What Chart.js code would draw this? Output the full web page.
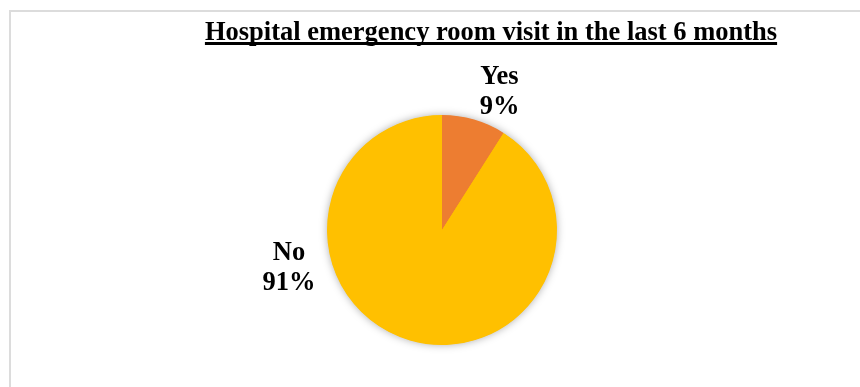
<!DOCTYPE html>
<html>
<head>
<meta charset="utf-8">
<script src="https://cdn.jsdelivr.net/npm/chart.js@4"></script>
<style>
  html, body { margin: 0; padding: 0; background: #fff; overflow: hidden; }
</style>
</head>
<body>
<canvas id="pie" width="860" height="387"></canvas>
<script>
const titleText = 'Hospital emergency room visit in the last 6 months';
const labels = ['Yes', 'No'];
const values = [9, 91];
const colors = ['#ED7D31', '#FFC000'];
// label block centre, in units of the pie radius from its centre
const labelOffsets = [[0.50, -1.22], [-1.33, 0.31]];

const serif = '"Liberation Serif", "Times New Roman", serif';

// grey frame along the top and left edges
const frame = {
    id: 'frame',
    beforeDraw(chart) {
        const ctx = chart.ctx;
        ctx.save();
        ctx.fillStyle = '#dcdcdc';
        ctx.fillRect(9, 10, chart.width - 9, 2);
        ctx.fillRect(9, 10, 2, chart.height - 10);
        ctx.restore();
    }
};

// soft shadow under the whole pie
const pieShadow = {
    id: 'pieShadow',
    beforeDatasetsDraw(chart) {
        const arc = chart.getDatasetMeta(0).data[0];
        const ctx = chart.ctx;
        ctx.save();
        ctx.shadowColor = 'rgba(0,0,0,0.35)';
        ctx.shadowBlur = 9;
        ctx.beginPath();
        ctx.arc(arc.x, arc.y, arc.outerRadius - 0.5, 0, Math.PI * 2);
        ctx.fillStyle = colors[1];
        ctx.fill();
        ctx.restore();
    }
};

// underlined title and the outside labels
const textLayer = {
    id: 'textLayer',
    afterDraw(chart) {
        const ctx = chart.ctx;
        ctx.save();
        ctx.fillStyle = '#000';
        ctx.font = 'bold 26.5px ' + serif;
        ctx.textAlign = 'center';
        ctx.textBaseline = 'alphabetic';
        const tx = 491, ty = 40;
        ctx.fillText(titleText, tx, ty);
        const w = ctx.measureText(titleText).width;
        ctx.fillRect(tx - w / 2, ty + 2, w, 3);

        const meta = chart.getDatasetMeta(0);
        const total = values.reduce((a, b) => a + b, 0);
        meta.data.forEach((arc, i) => {
            const cx = arc.x + labelOffsets[i][0] * arc.outerRadius;
            const cy = arc.y + labelOffsets[i][1] * arc.outerRadius;
            const pct = Math.round(values[i] / total * 100) + '%';
            ctx.fillText(labels[i], cx, cy - 15 + 9);
            ctx.fillText(pct, cx, cy + 15 + 9);
        });
        ctx.restore();
    }
};

new Chart(document.getElementById('pie'), {
    type: 'pie',
    data: {
        labels: labels,
        datasets: [{
            data: values,
            backgroundColor: colors,
            borderWidth: 0
        }]
    },
    options: {
        responsive: false,
        animation: false,
        layout: { padding: { top: 115, bottom: 42, left: 24, right: 0 } },
        plugins: {
            legend: { display: false },
            title: { display: false },
            tooltip: { enabled: false }
        }
    },
    plugins: [frame, pieShadow, textLayer]
});
</script>
</body>
</html>
